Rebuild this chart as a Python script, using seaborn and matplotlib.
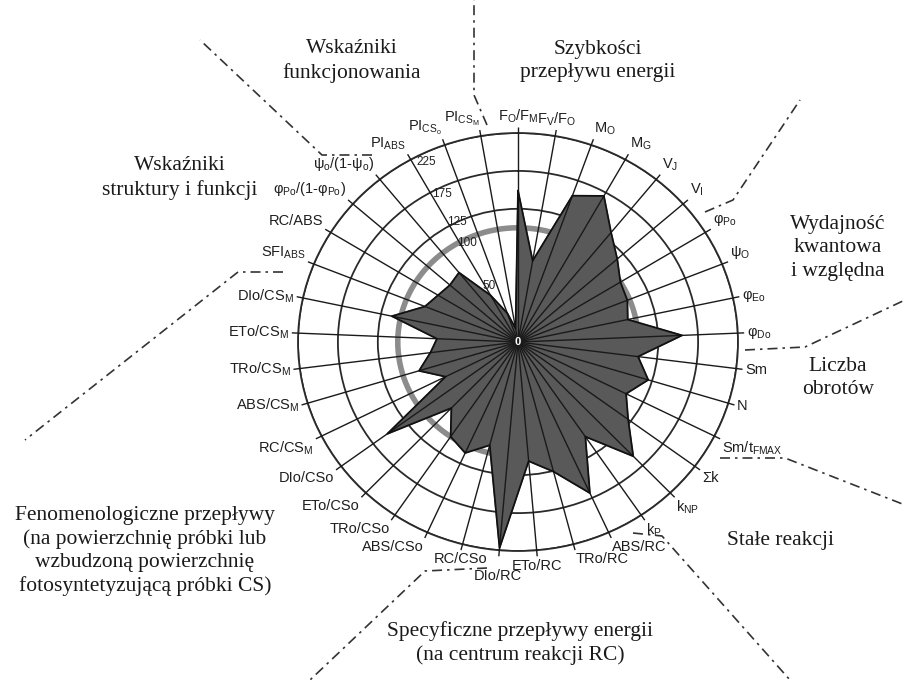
import numpy as np
import pandas as pd
import seaborn as sns
import matplotlib
matplotlib.use("Agg")
from matplotlib import pyplot as plt
from matplotlib.lines import Line2D

# parameters clockwise from the top
params = [
    r"$\mathregular{F_O/F_M}$", r"$\mathregular{F_V/F_O}$", r"$\mathregular{M_O}$",
    r"$\mathregular{M_G}$", r"$\mathregular{V_J}$", r"$\mathregular{V_I}$",
    r"$\mathregular{φ_{Po}}$", r"$\mathregular{ψ_O}$", r"$\mathregular{φ_{Eo}}$",
    r"$\mathregular{φ_{Do}}$", "Sm", "N", r"Sm/$\mathregular{t_{FMAX}}$", "Σk",
    r"$\mathregular{k_{NP}}$", r"$\mathregular{k_P}$", "ABS/RC", "TRo/RC", "ETo/RC",
    "DIo/RC", "RC/CSo", "ABS/CSo", "TRo/CSo", "ETo/CSo", "DIo/CSo",
    r"RC/CS$\mathregular{_M}$", r"ABS/CS$\mathregular{_M}$", r"TRo/CS$\mathregular{_M}$",
    r"ETo/CS$\mathregular{_M}$", r"DIo/CS$\mathregular{_M}$", r"SFI$\mathregular{_{ABS}}$",
    "RC/ABS", r"$\mathregular{φ_{Po}}$/(1-$\mathregular{φ_{Po}}$)",
    r"$\mathregular{ψ_o}$/(1-$\mathregular{ψ_o}$)",
    r"$\mathregular{PI_{ABS}}$", r"$\mathregular{PI_{CS_o}}$", r"$\mathregular{PI_{CS_M}}$",
]
values = [149, 58, 154, 170, 135, 115, 100, 97, 90, 155, 101, 120, 101, 121,
          158, 100, 168, 126, 107, 222, 90, 110, 100, 70, 153, 51, 79, 60,
          51, 111, 75, 67, 63, 67, 35, 20, 9]
ring_values = [125, 175, 225]
ref_value = 100
tick_values = [0, 50, 100, 125, 175, 225]

group_labels = [
    "Wskaźniki\nfunkcjonowania", "Szybkości\nprzepływu energii",
    "Wydajność\nkwantowa\ni względna", "Liczba\nobrotów", "Stałe reakcji",
    "Specyficzne przepływy energii\n(na centrum reakcji RC)",
    "Fenomenologiczne przepływy\n(na powierzchnię próbki lub\nwzbudzoną powierzchnię\nfotosyntetyzującą próbki CS)",
    "Wskaźniki\nstruktury i funkcji",
]
group_pos = [(352, 61), (598, 61), (838, 248), (838, 378), (780, 540),
             (520, 643), (145, 551), (180, 178)]

# separators (pixel coords of the figure)
separators = [
    [(487, 125), (474, 95), (474, 0)],
    [(705, 212), (733, 200), (800, 100)],
    [(745, 350), (805, 347), (905, 300)],
    [(720, 458), (785, 458), (905, 505)],
    [(633, 533), (662, 536), (790, 680)],
    [(487, 568), (425, 571), (310, 680)],
    [(283, 272), (238, 272), (25, 440)],
    [(372, 155), (322, 155), (200, 40)],
]


def fwd(v):
    v = np.asarray(v, float)
    return np.where(v <= 50, v * 1.55, 39 + 0.77 * v)


def inv(r):
    r = np.asarray(r, float)
    return np.where(r <= 77.5, r / 1.55, (r - 39) / 0.77)


W, H = 905, 680
fig = plt.figure(figsize=(W / 100, H / 100), dpi=100)
sns.set_style("white")
plt.rcParams["font.family"] = ["Liberation Sans", "DejaVu Sans"]

ax = fig.add_axes([298 / W, 1 - 551 / H, 440 / W, 418 / H], projection="polar")
ax.set_aspect("auto")
ax.set_theta_zero_location("N")
ax.set_theta_direction(-1)

n = len(values)
theta = np.arange(n) * 2 * np.pi / n
df = pd.DataFrame({"theta": np.append(theta, theta[0]),
                   "value": np.append(values, values[0])})

# filled profile
ax.fill(df["theta"], df["value"], color="#595959", zorder=2)
sns.lineplot(data=df, x="theta", y="value", sort=False, estimator=None,
             color="#111111", lw=1.3, ax=ax, zorder=4)

ax.set_rscale("function", functions=(fwd, inv))
ax.set_rlim(0, 225)

# rings
ax.set_xticks([])
ax.set_yticks(ring_values)
ax.set_yticklabels([])
ax.xaxis.grid(False)
ax.yaxis.grid(True, color="#2a2a2a", lw=1.3)
ax.spines["polar"].set_color("#2a2a2a")
ax.spines["polar"].set_linewidth(1.3)
ax.set_xlabel("")
ax.set_ylabel("")

circ = np.linspace(0, 2 * np.pi, 400)
ax.plot(circ, np.full_like(circ, ref_value), color="#8c8c8c", lw=4, zorder=1)

# spokes on top of the profile
ax.vlines(theta, 0, 233, colors="#1a1a1a", lw=1.0, zorder=3, clip_on=False)

# radial tick labels
lab_angle = np.deg2rad(334)
for v, r in zip(tick_values, [0, 41, 95, 125, 167, 213]):
    if v == 0:
        ax.text(0, 0, "0", color="white", fontsize=8, fontweight="bold",
                ha="center", va="center", zorder=6)
    else:
        ax.text(lab_angle, r, str(v), color="#222222", fontsize=8.5,
                ha="center", va="center", zorder=2)

# parameter labels
for t, lab in zip(theta, params):
    s, c = np.sin(t), np.cos(t)
    r = 236
    if c < -0.9:
        # bottom labels are staggered in the original
        ha = "left" if s > 0.2 else ("right" if s < -0.3 else "center")
        if abs(s) < 0.1 and s < 0:
            r = 250
    elif c > 0.9:
        ha = "left" if s > 0.3 else ("right" if s < -0.1 else "center")
    else:
        ha = "left" if s > 0.3 else ("right" if s < -0.3 else "center")
    va = "bottom" if c > 0.3 else ("top" if c < -0.3 else "center")
    ax.text(t, r, lab, fontsize=10.5, color="#1e1e1e", ha=ha, va=va)

# group labels and separators
for txt, (x, y) in zip(group_labels, group_pos):
    fig.text(x / W, 1 - y / H, txt, family="Liberation Serif", fontsize=15.5,
             ha="center", va="center", linespacing=1.3, color="#1a1a1a")

for pts in separators:
    xs = [p[0] / W for p in pts]
    ys = [1 - p[1] / H for p in pts]
    fig.lines.append(Line2D(xs, ys, transform=fig.transFigure, color="#333333",
                            lw=1.2, dashes=(6, 3, 1.5, 3)))

fig.savefig("out.png", dpi=100)
